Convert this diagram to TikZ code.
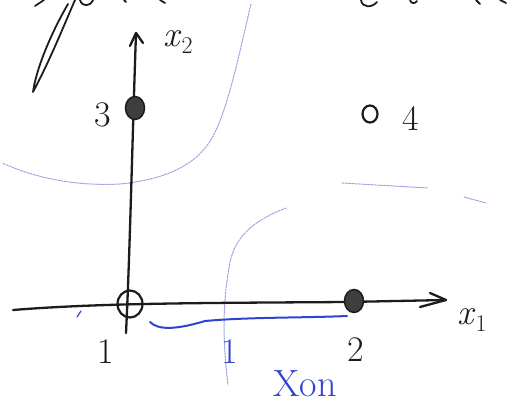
\documentclass[tikz,border=0pt]{standalone}
\usetikzlibrary{arrows.meta,shapes.geometric}
\definecolor{pen}{HTML}{1C1C1C}
\definecolor{bpen}{HTML}{2F43D2}
\definecolor{faint}{HTML}{A0A0E4}
\newcommand{\varsub}[2]{\textit{#1}\raisebox{-7pt}{\fontsize{24}{24}\selectfont #2}}
\begin{document}
\begin{tikzpicture}[x=1pt,y=-1pt,
  ink/.style={line width=2.3pt,draw=pen,line cap=round,line join=round},
  blueink/.style={line width=2pt,draw=bpen,line cap=round,line join=round},
  faintline/.style={line width=1pt,draw=faint,dash pattern=on 2pt off 1.2pt,line cap=round},
  lbl/.style={font=\fontsize{36}{36}\selectfont,text=pen,inner sep=0pt},
  bluelbl/.style={font=\fontsize{36}{36}\selectfont,text=bpen,inner sep=0pt},
  dotfill/.style={ellipse,draw=pen,fill=pen!85,line width=1.5pt,minimum width=19pt,minimum height=23pt,inner sep=0pt},
  opencirc/.style={ellipse,draw=pen,line width=2.2pt,minimum width=25pt,minimum height=27pt,inner sep=0pt},
  smallcirc/.style={ellipse,draw=pen,line width=2.2pt,minimum width=15pt,minimum height=17pt,inner sep=0pt}]
\useasboundingbox (0,0) rectangle (508,409);
% faint boundary curves
\draw[faintline] (251,4) .. controls (240,50) and (228,110) .. (212,138)
  .. controls (195,168) and (160,180) .. (120,184) .. controls (80,186) and (40,180) .. (2,163);
\draw[faintline] (342,183) -- (428,188);
\draw[faintline] (464,197) -- (486,203);
\draw[faintline] (286,208) .. controls (255,220) and (236,235) .. (230,262) .. controls (226,285) and (220,320) .. (228,385);
% top-left loop and cut-off handwriting
\draw[ink,line width=1.8pt] (75,0) .. controls (62,30) and (50,60) .. (33,92) .. controls (36,70) and (50,35) .. (68,4);
\draw[ink,line width=1.8pt] (35,6) -- (44,0);
\draw[ink,line width=1.8pt] (80,0) .. controls (82,7) and (90,7) .. (93,0);
\draw[ink,line width=1.8pt] (124,0) -- (126,2);
\draw[ink,line width=1.8pt] (160,0) -- (165,3);
\draw[ink,line width=1.8pt] (361,0) .. controls (362,8) and (372,8) .. (377,2);
\draw[ink,line width=1.8pt] (410,0) .. controls (411,4) and (415,4) .. (417,1);
\draw[ink,line width=1.8pt] (476,0) -- (480,4);
\draw[ink,line width=1.8pt] (500,0) -- (506,3);
% axes
\coordinate (v0) at (126,333);
\coordinate (v1) at (136,33);
\coordinate (h0) at (13,310);
\coordinate (h1) at (446,300);
\draw[ink] (v0) .. controls (130,250) and (132,150) .. (v1);
\draw[ink] (130,46) -- (v1) -- (143,43);
\draw[ink] (h0) .. controls (100,303) and (200,303) .. (347,302) -- (h1);
\draw[ink] (430,293) -- (h1) -- (420,307);
\node[lbl] (x2) at (178,42) {\varsub{x}{2}};
\node[lbl] (x1) at (472,320) {\varsub{x}{1}};
% points
\node[dotfill] (p3) at (135,108) {};
\node[lbl] (l3) at (103,115) {3};
\node[opencirc] (p1) at (130,304) {};
\node[lbl] (l1) at (106,352) {1};
\node[dotfill] (p2) at (354,301) {};
\node[lbl] (l2) at (356,350) {2};
\node[smallcirc] (p4) at (370,114) {};
\node[lbl] (l4) at (411,118) {4};
% blue annotations
\draw[blueink] (150,322) .. controls (158,330) and (175,330) .. (205,321) .. controls (250,317) and (300,318) .. (347,316);
\draw[blueink,line width=1.2pt] (77,317) -- (81,311);
\node[bluelbl] (b1) at (230,352) {1};
\node[bluelbl,font=\fontsize{38}{38}\selectfont] (xon) at (305,384) {Xon};
\end{tikzpicture}
\end{document}
